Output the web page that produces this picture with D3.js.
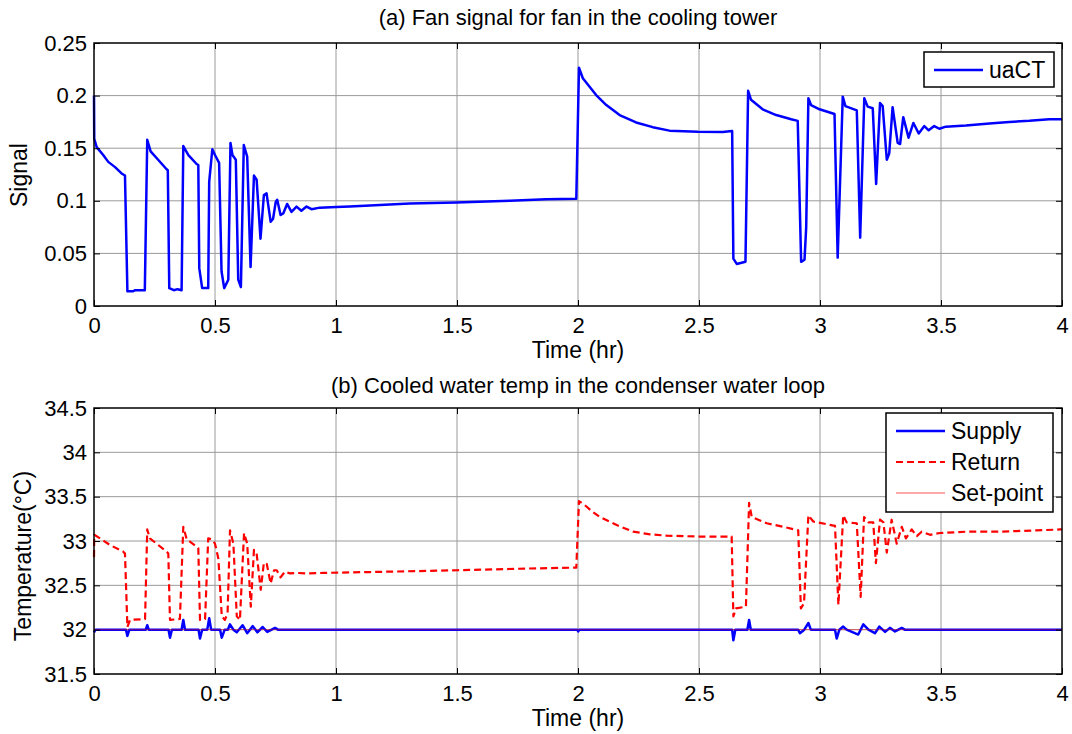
<!DOCTYPE html>
<html>
<head>
<meta charset="utf-8">
<script src="https://cdn.jsdelivr.net/npm/d3@7"></script>
<style>
  body { margin: 0; background: #fff; }
  svg { display: block; font-family: Arial, "Liberation Sans", sans-serif; }
</style>
</head>
<body>
<svg id="chart" width="1072" height="734"></svg>
<script>
// tick values
const timeTicks = [0, 0.5, 1, 1.5, 2, 2.5, 3, 3.5, 4];
const signalTicks = [0, 0.05, 0.1, 0.15, 0.2, 0.25];
const tempTicks = [31.5, 32, 32.5, 33, 33.5, 34, 34.5];

// (a) fan signal, [time hr, signal]
const uaCT = [[0,0.200],[0.001,0.159],[0.011,0.151],[0.038,0.1435],[0.059,0.137],[0.087,0.132],[0.114,0.126],[0.128,0.124],
  [0.138,0.014],[0.162,0.014],[0.170,0.015],[0.210,0.015],[0.220,0.158],[0.234,0.147],[0.265,0.139],[0.300,0.130],[0.305,0.129],
  [0.311,0.017],[0.330,0.015],[0.345,0.016],[0.362,0.015],[0.369,0.152],[0.390,0.1435],[0.424,0.135],[0.431,0.134],[0.435,0.036],
  [0.447,0.017],[0.472,0.017],[0.476,0.118],[0.489,0.149],[0.500,0.1435],[0.517,0.136],[0.527,0.033],[0.538,0.017],[0.555,0.025],
  [0.564,0.155],[0.572,0.1435],[0.586,0.139],[0.596,0.025],[0.607,0.018],[0.619,0.153],[0.633,0.142],[0.647,0.037],[0.661,0.124],
  [0.672,0.120],[0.688,0.064],[0.702,0.1055],[0.713,0.107],[0.730,0.080],[0.740,0.083],[0.751,0.099],[0.757,0.101],[0.771,0.0865],
  [0.782,0.088],[0.798,0.097],[0.816,0.0895],[0.837,0.0945],[0.857,0.0905],[0.878,0.0945],[0.899,0.092],[0.933,0.0935],[1.002,0.094],
  [1.057,0.0945],[1.140,0.0955],[1.305,0.0975],[1.497,0.0985],[1.718,0.100],[1.869,0.1015],[1.993,0.102],[2.004,0.2265],[2.020,0.2165],
  [2.075,0.2005],[2.117,0.191],[2.172,0.1815],[2.240,0.1745],[2.309,0.170],[2.378,0.1667],[2.495,0.1657],[2.598,0.1655],[2.637,0.1663],
  [2.642,0.045],[2.656,0.040],[2.692,0.042],[2.703,0.2045],[2.715,0.196],[2.763,0.187],[2.819,0.1815],[2.881,0.1775],[2.908,0.176],
  [2.922,0.042],[2.936,0.044],[2.943,0.075],[2.952,0.1975],[2.963,0.191],[2.998,0.187],[3.060,0.1825],[3.073,0.046],[3.094,0.199],
  [3.105,0.190],[3.152,0.186],[3.166,0.065],[3.183,0.1975],[3.197,0.1895],[3.218,0.188],[3.232,0.116],[3.248,0.193],[3.259,0.190],
  [3.276,0.139],[3.286,0.145],[3.300,0.189],[3.321,0.155],[3.331,0.154],[3.344,0.1795],[3.366,0.160],[3.386,0.174],[3.408,0.164],
  [3.431,0.171],[3.449,0.167],[3.472,0.171],[3.493,0.1685],[3.520,0.1705],[3.603,0.1715],[3.700,0.1735],[3.782,0.175],[3.865,0.176],
  [3.947,0.1775],[4.000,0.1775]];

// (b) condenser water loop temperatures, [time hr, degC]
const supply = [[0,31.97],[0.006,32],[0.132,32],[0.138,31.93],[0.146,32],[0.214,32],[0.220,32.05],[0.226,32],[0.308,32],[0.314,31.91],
  [0.322,32],[0.362,32],[0.369,32.11],[0.376,32],[0.432,32],[0.438,31.90],[0.447,32],[0.468,32],[0.476,32.13],[0.484,32],[0.521,32],
  [0.528,31.91],[0.540,32],[0.553,32],[0.562,32.06],[0.576,32],[0.590,31.97],[0.614,32.05],[0.633,31.96],[0.656,32.04],[0.675,31.97],
  [0.697,32.03],[0.716,31.975],[0.748,32.02],[0.760,32],[1.997,32],[2.001,31.98],[2.005,32],[2.637,32],[2.642,31.88],[2.650,32],
  [2.700,32],[2.707,32.11],[2.714,32],[2.910,32],[2.917,31.96],[2.935,32],[2.952,32.075],[2.962,32],[3.062,32],[3.069,31.90],[3.080,32],
  [3.096,32.035],[3.110,32],[3.158,31.945],[3.179,32.06],[3.200,32],[3.227,31.96],[3.245,32.035],[3.269,31.975],[3.289,32.02],
  [3.310,31.98],[3.338,32.02],[3.350,32],[4,32]];

const returnTemp = [[0,32.82],[0.001,33.07],[0.025,33.03],[0.066,32.955],[0.121,32.88],[0.128,32.86],[0.138,32.03],[0.149,32.11],
  [0.211,32.12],[0.220,33.13],[0.231,33.03],[0.300,32.88],[0.307,32.86],[0.314,32.11],[0.355,32.12],[0.369,33.16],[0.383,33.02],
  [0.431,32.92],[0.438,32.11],[0.459,32.12],[0.472,33.03],[0.486,33.02],[0.500,32.97],[0.514,32.80],[0.528,32.15],[0.541,32.11],
  [0.552,32.19],[0.562,33.12],[0.576,32.97],[0.590,32.15],[0.603,32.11],[0.620,33.09],[0.633,32.97],[0.648,32.26],[0.661,32.90],
  [0.672,32.86],[0.689,32.45],[0.702,32.755],[0.714,32.74],[0.730,32.52],[0.744,32.67],[0.755,32.67],[0.771,32.59],[0.789,32.655],
  [0.810,32.635],[0.838,32.64],[0.879,32.635],[0.948,32.64],[1.140,32.65],[1.500,32.67],[1.800,32.69],[1.993,32.70],[2.004,33.45],
  [2.030,33.40],[2.060,33.33],[2.091,33.27],[2.160,33.18],[2.228,33.105],[2.298,33.075],[2.367,33.06],[2.505,33.05],[2.635,33.05],
  [2.642,32.15],[2.653,32.24],[2.694,32.26],[2.707,33.43],[2.718,33.27],[2.780,33.20],[2.848,33.16],[2.910,33.12],[2.921,32.24],
  [2.934,32.30],[2.952,33.29],[2.972,33.22],[3.062,33.17],[3.076,32.28],[3.096,33.29],[3.110,33.21],[3.152,33.20],[3.168,32.37],
  [3.182,33.27],[3.200,33.21],[3.220,33.21],[3.231,32.75],[3.248,33.24],[3.262,33.21],[3.276,32.87],[3.296,33.24],[3.317,32.97],
  [3.338,33.16],[3.355,33.03],[3.379,33.13],[3.400,33.055],[3.420,33.105],[3.455,33.07],[3.496,33.09],[3.606,33.105],[3.744,33.105],
  [3.895,33.12],[3.992,33.13],[4,33.13]];

const setPoint = [[0,32],[4,32]];

const svg = d3.select("#chart");
const fontSize = 22;

function panel(o) {
  const x = d3.scaleLinear().domain([0, 4]).range([o.left, o.right]);
  const y = d3.scaleLinear().domain(o.yDomain).range([o.bottom, o.top]);
  const g = svg.append("g");

  // grid
  g.append("g").selectAll("line").data(timeTicks.slice(1, -1)).join("line")
    .attr("x1", d => x(d)).attr("x2", d => x(d))
    .attr("y1", o.top).attr("y2", o.bottom)
    .attr("stroke", "#9a9a9a").attr("stroke-width", 1);
  g.append("g").selectAll("line").data(o.yTicks.slice(1, -1)).join("line")
    .attr("x1", o.left).attr("x2", o.right)
    .attr("y1", d => y(d)).attr("y2", d => y(d))
    .attr("stroke", "#9a9a9a").attr("stroke-width", 1);

  // series
  const line = d3.line().x(d => x(d[0])).y(d => y(d[1]));
  o.series.forEach(s => {
    g.append("path").datum(s.data)
      .attr("fill", "none")
      .attr("stroke", s.color)
      .attr("stroke-width", s.width)
      .attr("stroke-opacity", s.opacity || 1)
      .attr("stroke-dasharray", s.dash || null)
      .attr("stroke-linejoin", "round")
      .attr("d", line);
  });

  // axes, ticks pointing inward
  const fmt = d3.format("~g");
  const styleAxis = a => {
    a.select(".domain").remove();
    a.selectAll("line").attr("stroke", "#000");
    a.selectAll("text").attr("font-size", fontSize).attr("fill", "#000")
      .attr("font-family", "Arial, 'Liberation Sans', sans-serif");
  };
  g.append("g").attr("transform", `translate(0,${o.bottom})`)
    .call(d3.axisBottom(x).tickValues(timeTicks).tickSize(-6).tickPadding(11).tickFormat(fmt))
    .call(styleAxis);
  g.append("g").attr("transform", `translate(0,${o.top})`)
    .call(d3.axisTop(x).tickValues(timeTicks).tickSize(-6).tickFormat(""))
    .call(styleAxis);
  g.append("g").attr("transform", `translate(${o.left},0)`)
    .call(d3.axisLeft(y).tickValues(o.yTicks).tickSize(-6).tickPadding(7).tickFormat(fmt))
    .call(styleAxis);
  g.append("g").attr("transform", `translate(${o.right},0)`)
    .call(d3.axisRight(y).tickValues(o.yTicks).tickSize(-6).tickFormat(""))
    .call(styleAxis);

  g.append("rect")
    .attr("x", o.left).attr("y", o.top)
    .attr("width", o.right - o.left).attr("height", o.bottom - o.top)
    .attr("fill", "none").attr("stroke", "#000").attr("stroke-width", 1.5);

  // title and labels
  g.append("text").attr("x", (o.left + o.right) / 2).attr("y", o.top - o.titleGap)
    .attr("text-anchor", "middle").attr("font-size", 22).text(o.title);
  g.append("text").attr("x", (o.left + o.right) / 2).attr("y", o.bottom + 52)
    .attr("text-anchor", "middle").attr("font-size", 23).text("Time (hr)");
  g.append("text")
    .attr("transform", `translate(${o.yLabelX},${o.yLabelY}) rotate(-90)`)
    .attr("text-anchor", "middle").attr("font-size", 23).text(o.yLabel);

  // legend
  const lg = g.append("g");
  lg.append("rect").attr("x", o.legend.x).attr("y", o.legend.y)
    .attr("width", o.legend.w).attr("height", o.legend.h)
    .attr("fill", "#fff").attr("stroke", "#000").attr("stroke-width", 1.5);
  o.series.filter(s => s.name).forEach((s, i) => {
    const cy = o.legend.y + 18 + i * 31;
    lg.append("line")
      .attr("x1", o.legend.x + 10).attr("x2", o.legend.x + 59)
      .attr("y1", cy).attr("y2", cy)
      .attr("stroke", s.legendColor || s.color)
      .attr("stroke-width", s.legendWidth || s.width)
      .attr("stroke-dasharray", s.dash || null);
    lg.append("text").attr("x", o.legend.x + 65).attr("y", cy + 8)
      .attr("font-size", 23).text(s.name);
  });
}

panel({
  left: 94, right: 1062, top: 43, bottom: 306, titleGap: 18,
  yDomain: [0, 0.25], yTicks: signalTicks,
  title: "(a) Fan signal for fan in the cooling tower",
  yLabel: "Signal", yLabelX: 27, yLabelY: 175,
  legend: { x: 924, y: 52, w: 130, h: 35 },
  series: [{ name: "uaCT", data: uaCT, color: "#0000ff", width: 2.5 }]
});

panel({
  left: 94, right: 1062, top: 408, bottom: 674, titleGap: 15,
  yDomain: [31.5, 34.5], yTicks: tempTicks,
  title: "(b) Cooled water temp in the condenser water loop",
  yLabel: "Temperature(\u00b0C)", yLabelX: 31, yLabelY: 556,
  legend: { x: 886, y: 413, w: 167, h: 99 },
  series: [
    { name: "Supply", data: supply, color: "#0000ff", width: 2.5 },
    { name: "Return", data: returnTemp, color: "#ff0000", width: 2.2, dash: "7,4" },
    { name: "Set-point", data: setPoint, color: "#ff0000", width: 1, opacity: 0.45, legendColor: "#ff5050", legendWidth: 1 }
  ]
});
</script>
</body>
</html>
